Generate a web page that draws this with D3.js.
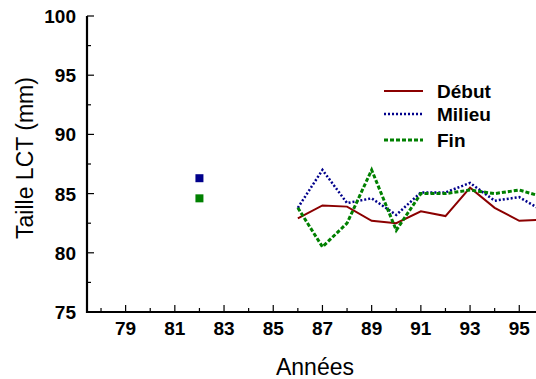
<!DOCTYPE html>
<html>
<head>
<meta charset="utf-8">
<script src="https://cdn.jsdelivr.net/npm/d3@7"></script>
<style>
body{margin:0;background:#fff;}
text{font-family:"Liberation Sans",Arial,sans-serif;}
</style>
</head>
<body>
<svg id="chart" width="536" height="379"></svg>
<script>
// années et tailles
var years = [86,87,88,89,90,91,92,93,94,95,96];
var debut = [82.9,84.0,83.9,82.7,82.5,83.5,83.1,85.5,83.8,82.7,82.8];
var milieu = [83.8,87.0,84.2,84.6,83.2,85.1,85.1,85.9,84.4,84.7,83.5];
var fin = [83.8,80.5,82.5,87.0,81.9,85.0,85.0,85.3,85.0,85.3,84.7];
var isolatedYear = 82;
var isolatedMilieu = 86.3;
var isolatedFin = 84.6;
var xTicks = [79,81,83,85,87,89,91,93,95];
var yTicks = [75,80,85,90,95,100];

var svg = d3.select("#chart");
var x = d3.scaleLinear().domain([77.43,95.68]).range([87,536]);
var y = d3.scaleLinear().domain([75,100]).range([312,16]);

var series = [
    {name:"Début", values:debut, color:"#8b0000", width:2, dash:null},
    {name:"Milieu", values:milieu, color:"#00008b", width:2.5, dash:"2,2"},
    {name:"Fin", values:fin, color:"#008000", width:3, dash:"4,2"}
];

var line = d3.line().x((d,i)=>x(years[i])).y(d=>y(d));
series.forEach(function(s){
    svg.append("path").datum(s.values)
        .attr("d",line).attr("fill","none")
        .attr("stroke",s.color).attr("stroke-width",s.width)
        .attr("stroke-dasharray",s.dash);
});

// points isolés (1982)
svg.append("rect").attr("x",x(isolatedYear)-4).attr("y",y(isolatedMilieu)-4)
    .attr("width",8).attr("height",8).attr("fill","#00008b");
svg.append("rect").attr("x",x(isolatedYear)-4).attr("y",y(isolatedFin)-4)
    .attr("width",8).attr("height",8).attr("fill","#008000");

// axes
var xMinor = d3.range(78,96);
var xaxis = svg.append("g");
xaxis.selectAll("line.minor").data(xMinor).enter().append("line")
    .attr("x1",d=>x(d)).attr("x2",d=>x(d))
    .attr("y1",312).attr("y2",d=>xTicks.indexOf(d)>=0?305:308)
    .attr("stroke","#000").attr("stroke-width",1.2);
xaxis.selectAll("text").data(xTicks).enter().append("text")
    .attr("x",d=>x(d)).attr("y",335)
    .attr("text-anchor","middle").attr("font-size","19px").attr("font-weight","bold")
    .text(d=>d);

var yMinor = d3.range(75,100.1,2.5);
var yaxis = svg.append("g");
yaxis.selectAll("line").data(yMinor).enter().append("line")
    .attr("x1",87).attr("x2",d=>d%5===0?94:91)
    .attr("y1",d=>y(d)).attr("y2",d=>y(d))
    .attr("stroke","#000").attr("stroke-width",1.2);
yaxis.selectAll("text").data(yTicks).enter().append("text")
    .attr("x",76).attr("y",d=>y(d)+7)
    .attr("text-anchor","end").attr("font-size","19px").attr("font-weight","bold")
    .text(d=>d);

svg.append("path").attr("d","M87,"+y(100)+"V312H536")
    .attr("fill","none").attr("stroke","#000").attr("stroke-width",2.2);

svg.append("text").attr("x",315).attr("y",375).attr("text-anchor","middle")
    .attr("font-size","23px").text("Années");
svg.append("text").attr("transform","translate(33,158) rotate(-90)")
    .attr("text-anchor","middle").attr("font-size","23px").text("Taille LCT (mm)");

// légende
var legend = svg.append("g").selectAll("g").data(series).enter().append("g")
    .attr("transform",(d,i)=>"translate(384,"+[91,114,140][i]+")");
legend.append("line").attr("x1",0).attr("x2",39)
    .attr("stroke",d=>d.color).attr("stroke-width",d=>d.width)
    .attr("stroke-dasharray",d=>d.dash);
legend.append("text").attr("x",53).attr("y",7)
    .attr("font-size","19px").attr("font-weight","bold").text(d=>d.name);
</script>
</body>
</html>
